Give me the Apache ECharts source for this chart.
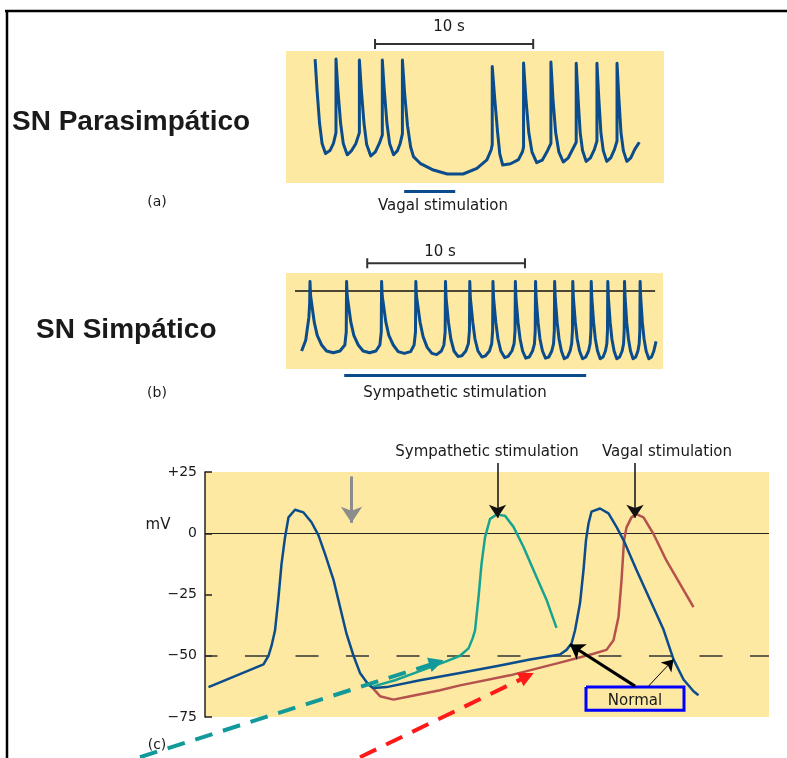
<!DOCTYPE html>
<html>
<head>
<meta charset="utf-8">
<title>SN Parasimpático / SN Simpático</title>
<script src="https://cdn.jsdelivr.net/npm/echarts@6/dist/echarts.min.js"></script>
<style>
  html, body { margin: 0; padding: 0; background: #fff; }
  #chart { width: 787px; height: 758px; }
</style>
</head>
<body>
<div id="chart"></div>
<script>
// (a) vagal stimulation: time (s), potential (mV)
const vagalTrace = [
  [1.84, 13.3], [1.96, -12], [2.12, -40], [2.28, -57], [2.5, -65.5], [2.78, -63], [3.0, -57], [3.16, -48],
  [3.16, 13.3], [3.28, -12], [3.45, -40], [3.62, -57], [3.87, -66.5], [4.15, -63], [4.42, -57], [4.64, -48],
  [4.64, 12.5], [4.76, -12], [4.93, -40], [5.1, -58], [5.36, -67.5], [5.65, -64], [5.9, -57], [6.09, -50],
  [6.09, 12.5], [6.21, -12], [6.38, -40], [6.55, -57], [6.8, -66.5], [7.05, -63], [7.22, -57], [7.36, -49],
  [7.36, 12.5], [7.5, -15], [7.68, -42], [7.88, -60], [8.06, -68], [8.48, -73.6], [9.32, -79.2], [10.2, -82.5],
  [11.2, -82.5], [12.07, -77.8], [12.7, -70.8], [12.97, -62.5], [13.04, -58],
  [13.04, 7], [13.2, -20], [13.38, -48], [13.52, -66], [13.7, -75], [14.2, -74], [14.7, -70.5], [14.95, -64], [15.02, -60],
  [15.02, 10], [15.17, -20], [15.35, -48], [15.55, -64], [15.85, -73], [16.2, -71], [16.5, -64], [16.75, -57],
  [16.75, 10.8], [16.88, -20], [17.05, -48], [17.25, -64], [17.53, -72.5], [17.85, -69], [18.1, -62.5], [18.35, -56],
  [18.35, 9.7], [18.47, -20], [18.6, -48], [18.75, -63], [18.98, -72], [19.25, -69], [19.5, -62], [19.66, -55],
  [19.66, 9.7], [19.78, -20], [19.91, -48], [20.06, -63], [20.28, -72], [20.53, -69], [20.77, -62], [20.93, -55],
  [20.93, 9.7], [21.05, -20], [21.18, -48], [21.33, -63], [21.55, -72], [21.8, -69], [22.05, -62], [22.34, -56]
];
const vagalScaleBar = [[5.63, 30], [5.63, 21.7], [5.63, 25.8], [15.63, 25.8], [15.63, 30], [15.63, 21.7]];
const vagalStimBar = [[7.47, -96.7], [10.7, -96.7]];

// (b) sympathetic stimulation: time (s), potential (mV)
const sympTrace = [
  [0.99, -50], [1.25, -41], [1.45, -22], [1.5, -10], [1.52, 8],
  [1.56, -4], [1.79, -26], [1.98, -37], [2.26, -45], [2.57, -50], [3.0, -51.5], [3.42, -50], [3.73, -45], [3.82, -34], [3.84, 8],
  [3.88, -4], [4.11, -26], [4.3, -37], [4.58, -45], [4.89, -50], [5.3, -51.5], [5.7, -50], [5.95, -45], [6.04, -34], [6.06, 8],
  [6.1, -4], [6.33, -26], [6.52, -37], [6.8, -45], [7.11, -50.5], [7.5, -52], [7.9, -50.5], [8.12, -45], [8.21, -34], [8.23, 8],
  [8.27, -4], [8.5, -26], [8.69, -38], [8.95, -47], [9.25, -52], [9.55, -53], [9.85, -50], [10.01, -45], [10.09, -34], [10.11, 8],
  [10.15, -6], [10.3, -26], [10.45, -40], [10.65, -50], [10.9, -54.5], [11.15, -54], [11.4, -50], [11.56, -44], [11.63, -33], [11.65, 8],
  [11.69, -6], [11.84, -26], [11.98, -40], [12.17, -50], [12.42, -55], [12.65, -54], [12.9, -50], [13.04, -44], [13.1, -33], [13.12, 8],
  [13.16, -6], [13.3, -26], [13.44, -40], [13.62, -50], [13.86, -55.5], [14.08, -54.5], [14.32, -50], [14.46, -44], [14.52, -33], [14.54, 8],
  [14.58, -6], [14.71, -26], [14.84, -40], [15.0, -50], [15.2, -56], [15.42, -55], [15.63, -50], [15.75, -44], [15.8, -33], [15.82, 8],
  [15.86, -6], [15.98, -26], [16.1, -40], [16.26, -50], [16.45, -56], [16.66, -55], [16.85, -50], [16.96, -44], [17.01, -33], [17.03, 8],
  [17.07, -6], [17.19, -26], [17.31, -40], [17.46, -50], [17.64, -56.5], [17.84, -55], [18.01, -50], [18.11, -44], [18.16, -33], [18.18, 8],
  [18.22, -6], [18.34, -26], [18.46, -40], [18.61, -50], [18.8, -56.5], [19.0, -55], [19.18, -50], [19.28, -44], [19.33, -33], [19.35, 8],
  [19.39, -6], [19.5, -26], [19.61, -40], [19.75, -50], [19.92, -56.5], [20.1, -55], [20.25, -50], [20.34, -44], [20.38, -33], [20.4, 8],
  [20.44, -6], [20.55, -26], [20.66, -40], [20.8, -50], [20.97, -56.5], [21.15, -55], [21.31, -50], [21.4, -44], [21.44, -33], [21.46, 8],
  [21.5, -6], [21.6, -26], [21.71, -40], [21.84, -50], [22.0, -56.5], [22.17, -55], [22.31, -50], [22.39, -44], [22.43, -33], [22.45, 8],
  [22.49, -6], [22.59, -26], [22.7, -40], [22.83, -50], [23.0, -56.5], [23.17, -55], [23.32, -50], [23.46, -42]
];
const sympScaleBar = [[5.15, 27.3], [5.15, 18.9], [5.15, 23.1], [15.15, 23.1], [15.15, 27.3], [15.15, 18.9]];
const sympStimBar = [[3.69, -70], [19.03, -70]];
const sympZeroLine = [[0.57, 0], [23.4, 0]];

// (c) single action potentials: time (ms), potential (mV)
const apNormal = [
  [7, -62.8], [117, -53.5], [127, -50], [133, -46], [140, -39.7], [147, -26.2], [153, -12.6], [160, -1.7],
  [167, 6.5], [180, 9.6], [197, 8.5], [213, 4.5], [227, -0.9], [240, -8.4], [257, -19], [270, -30],
  [283, -41], [297, -50], [310, -57], [327, -61.8], [337, -63.2], [363, -62.8], [430, -60], [510, -57],
  [590, -54], [650, -51.5], [710, -49.5], [723, -47.6], [733, -45], [740, -39.7], [750, -28.6], [757, -15],
  [762, -2.8], [767, 4], [773, 8.8], [790, 10.1], [807, 8.1], [823, 2.6], [837, -2.8], [863, -15],
  [890, -27.1], [917, -39.3], [937, -51.5], [957, -59.7], [977, -64.5], [987, -66.1]
];
const apSympathetic = [
  [337, -62.5], [380, -60], [420, -57], [480, -52.5], [510, -50], [527, -47], [535, -43], [540, -39.7],
  [547, -26.2], [553, -12.6], [560, -1.7], [570, 5.8], [583, 7.6], [600, 7.1], [617, 2.6], [637, -5.6],
  [663, -17.9], [683, -27.1], [703, -38.6]
];
const apVagal = [
  [327, -61.5], [337, -63.5], [350, -66.5], [377, -67.9], [403, -66.8], [470, -64.1], [510, -62.1], [610, -58],
  [710, -52.8], [777, -49.2], [803, -47.6], [817, -43.7], [827, -34.2], [833, -19.3], [838, -3], [843, 2.4],
  [853, 6.5], [863, 7.8], [877, 6.5], [897, -0.3], [923, -11.2], [950, -20.7], [977, -30.2]
];
const apTicks = [25, 0, -25, -50, -75];
const zeroLine = [[0, 0], [1128, 0]];
const thresholdLine = [[0, -50], [1128, -50]];
const grayArrow = [[293, 23.2], [293, 4.25]];
const sympArrow = [[585, 28.7], [585, 6.3]];
const vagalArrow = [[860, 28.7], [860, 6.3]];
const normalBox = [[762, -62.8], [958, -62.8], [958, -72.2], [762, -72.2], [762, -62.8]];
const normalArrowThick = [[860, -62.4], [730, -45.4]];
const normalArrowThin = [[887, -62.4], [937, -51.5]];
const tealDashArrow = [[-130, -91.4], [463, -52.8]];
const redDashArrow = [[310, -91.4], [644, -58.4]];

const yellow = '#fee9a2';
const navy = '#0b4d8c';
const teal = '#17a391';
const brick = '#b5524d';

const chart = echarts.init(document.getElementById('chart'));

function trace(data, grid, color, width, z) {
  return {
    type: 'line', xAxisIndex: grid, yAxisIndex: grid, data: data,
    symbol: 'none', clip: false, silent: true, z: z || 2,
    lineStyle: { color: color, width: width, join: 'round' }
  };
}
function seg(coords, grid, color, width, opts) {
  opts = opts || {};
  return {
    type: 'lines', coordinateSystem: 'cartesian2d', xAxisIndex: grid, yAxisIndex: grid,
    polyline: !!opts.polyline, clip: false, silent: true, z: opts.z || 3,
    symbol: opts.head ? ['none', opts.head] : 'none',
    symbolSize: opts.size || 10,
    lineStyle: { color: color, width: width, type: opts.dash || 'solid', dashOffset: opts.offset || 0, opacity: 1, curveness: 0 },
    data: [{ coords: coords }]
  };
}
function text(str, x, y, font, align) {
  return {
    type: 'text', x: x, y: y, silent: true,
    style: {
      text: str, font: font, fill: '#1a1a1a',
      align: align || 'center', verticalAlign: 'middle',
      textAlign: align || 'center', textVerticalAlign: 'middle'
    }
  };
}
const small = '15px "DejaVu Sans"';
const big = 'bold 28px "Liberation Sans"';

chart.setOption({
  animation: false,
  backgroundColor: '#fff',
  grid: [
    { left: 286, top: 51, width: 378, height: 132, show: true, backgroundColor: yellow, borderWidth: 0 },
    { left: 286, top: 273, width: 377, height: 96, show: true, backgroundColor: yellow, borderWidth: 0 },
    { left: 205, top: 472, width: 564, height: 245, show: true, backgroundColor: yellow, borderWidth: 0 }
  ],
  xAxis: [
    { type: 'value', gridIndex: 0, min: 0, max: 23.9, show: false },
    { type: 'value', gridIndex: 1, min: 0, max: 23.9, show: false },
    { type: 'value', gridIndex: 2, min: 0, max: 1128, show: false }
  ],
  yAxis: [
    { type: 'value', gridIndex: 0, min: -90, max: 20, show: false },
    { type: 'value', gridIndex: 1, min: -65, max: 15, show: false },
    {
      type: 'value', gridIndex: 2, min: apTicks[apTicks.length - 1], max: apTicks[0], interval: 25,
      axisLine: { show: true, lineStyle: { color: '#222', width: 1.5 } },
      axisTick: { show: true, inside: true, length: 7, lineStyle: { color: '#222', width: 1.5 } },
      splitLine: { show: false },
      axisLabel: {
        margin: 8, color: '#1a1a1a', fontSize: 14, fontFamily: 'DejaVu Sans',
        formatter: function (v) { return v > 0 ? '+' + v : (v < 0 ? '\u2212' + Math.abs(v) : '0'); }
      }
    }
  ],
  series: [
    // (a)
    trace(vagalTrace, 0, navy, 3),
    seg(vagalScaleBar, 0, '#333', 2, { polyline: true }),
    seg(vagalStimBar, 0, navy, 3),
    // (b)
    seg(sympZeroLine, 1, '#111', 1.5, { z: 1 }),
    trace(sympTrace, 1, navy, 3),
    seg(sympScaleBar, 1, '#333', 2, { polyline: true }),
    seg(sympStimBar, 1, navy, 3),
    // (c)
    seg(zeroLine, 2, '#222', 1.2, { z: 1 }),
    seg(thresholdLine, 2, '#333', 1.5, { z: 1, dash: [23, 27.5], offset: 10.5 }),
    trace(apVagal, 2, brick, 2.5),
    trace(apNormal, 2, navy, 2.5),
    trace(apSympathetic, 2, teal, 2.5),
    seg(grayArrow, 2, '#8c8c8c', 3, { head: 'arrow', size: 16 }),
    seg(sympArrow, 2, '#111', 1.5, { head: 'arrow', size: 13 }),
    seg(vagalArrow, 2, '#111', 1.5, { head: 'arrow', size: 13 }),
    seg(normalBox, 2, '#0000ff', 3, { polyline: true }),
    seg(normalArrowThick, 2, '#000', 3, { head: 'arrow', size: 14 }),
    seg(normalArrowThin, 2, '#000', 1, { head: 'arrow', size: 11 }),
    seg(redDashArrow, 2, '#ff1a1a', 4, { head: 'triangle', size: 15, dash: [18, 11] }),
    seg(tealDashArrow, 2, '#129a9a', 4, { head: 'triangle', size: 15, dash: [18, 11] })
  ],
  graphic: [
    { type: 'line', silent: true, shape: { x1: 5, y1: 11, x2: 787, y2: 11 }, style: { stroke: '#000', lineWidth: 2.5 } },
    { type: 'line', silent: true, shape: { x1: 7, y1: 11, x2: 7, y2: 758 }, style: { stroke: '#000', lineWidth: 2.5 } },
    text('SN Parasimpático', 12, 122, big, 'left'),
    text('SN Simpático', 36, 330, big, 'left'),
    text('10 s', 449, 27, small),
    text('Vagal stimulation', 443, 206, small),
    text('(a)', 157, 202, '14px "DejaVu Sans"'),
    text('10 s', 440, 252, small),
    text('Sympathetic stimulation', 455, 393, small),
    text('(b)', 157, 393, '14px "DejaVu Sans"'),
    text('Sympathetic stimulation', 487, 452, small),
    text('Vagal stimulation', 667, 452, small),
    text('mV', 158, 525, small),
    text('(c)', 157, 745, '14px "DejaVu Sans"'),
    text('Normal', 635, 701, small)
  ]
});
</script>
</body>
</html>
